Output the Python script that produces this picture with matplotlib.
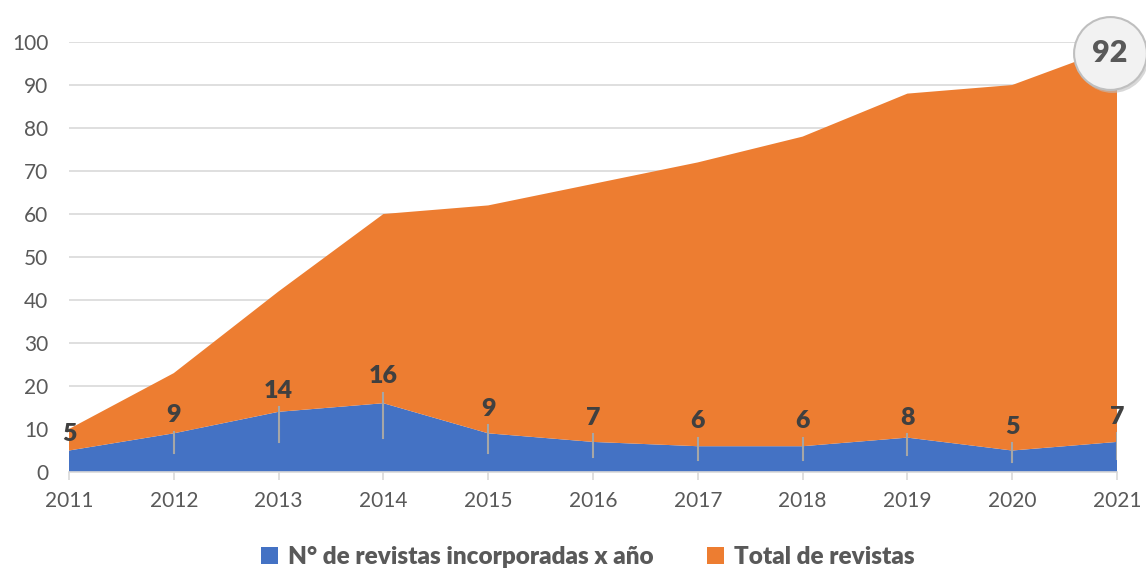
import numpy as np
import matplotlib
matplotlib.use("Agg")
import matplotlib.pyplot as plt
from matplotlib.patches import Patch
from matplotlib.transforms import offset_copy

plt.rcParams['font.family'] = ['Lato', 'DejaVu Sans']

# datos
years = [2011, 2012, 2013, 2014, 2015, 2016, 2017, 2018, 2019, 2020, 2021]
nuevas = [5, 9, 14, 16, 9, 7, 6, 6, 8, 5, 7]
total = [5, 14, 28, 44, 53, 60, 66, 72, 80, 85, 92]
# líneas guía de las etiquetas
guia_lo = [5, 4.4, 7.0, 7.9, 4.4, 3.5, 2.8, 2.8, 4.0, 2.3, 3.0]
guia_hi = [5, 9.3, 15.1, 18.4, 10.9, 8.8, 7.9, 7.9, 8.8, 6.7, 9.0]

azul = '#4472C4'
naranja = '#ED7D31'
gris_txt = '#595959'

fig = plt.figure(figsize=(11.46, 5.70), dpi=100)
ax = fig.add_axes([0.0602, 0.1719, 0.9145, 0.7544])

ax.stackplot(years, nuevas, total, colors=[azul, naranja], zorder=2)

ax.set_xlim(2011, 2021)
ax.set_ylim(0, 100)
ax.set_yticks(range(0, 101, 10))
ax.set_xticks(years)
ax.grid(axis='y', color='#D9D9D9', linewidth=1.2, zorder=0)
ax.set_axisbelow(True)
for s in ['top', 'right', 'left']:
    ax.spines[s].set_visible(False)
ax.spines['bottom'].set_color('#D9D9D9')
ax.spines['bottom'].set_linewidth(1.2)
ax.spines['bottom'].set_zorder(3)
ax.tick_params(axis='y', length=0, labelsize=15, labelcolor=gris_txt, pad=15)
ax.tick_params(axis='x', length=6, color='#D9D9D9', width=1.2, labelsize=15,
               labelcolor=gris_txt, pad=8)

# etiquetas de datos con líneas guía
for i, (x, v) in enumerate(zip(years, nuevas)):
    if guia_hi[i] > guia_lo[i]:
        ax.plot([x, x], [guia_lo[i], guia_hi[i]], color='#A6A6A6', lw=1.5, zorder=4)
    ax.annotate(str(v), xy=(x, guia_hi[i]), xytext=(0, 4), textcoords='offset points',
                ha='center', va='bottom', fontsize=18, fontweight='heavy',
                color='#404040', zorder=5, annotation_clip=False)

# burbuja con el total final
top = nuevas[-1] + total[-1]
tr = offset_copy(ax.transData, fig=fig, x=-5, y=-5, units='points')
tr_sh = offset_copy(ax.transData, fig=fig, x=-3.5, y=-7, units='points')
ax.scatter([years[-1]], [top], s=2750, color='#BFBFBF', alpha=0.6, transform=tr_sh,
           clip_on=False, zorder=6, linewidths=0)
ax.scatter([years[-1]], [top], s=2750, facecolor='#F2F2F2', edgecolor='#BFBFBF',
           linewidths=1.5, transform=tr, clip_on=False, zorder=7)
ax.text(years[-1], top, str(total[-1]), transform=tr, ha='center', va='center',
        fontsize=22, fontweight='heavy', color=gris_txt, zorder=8, clip_on=False)

handles = [Patch(facecolor=azul, label='N° de revistas incorporadas x año'),
           Patch(facecolor=naranja, label='Total de revistas')]
fig.legend(handles=handles, loc='center', bbox_to_anchor=(0.513, 0.022), ncol=2,
           frameon=False, handlelength=0.7, handleheight=0.7, handletextpad=0.4,
           columnspacing=2.2, prop={'size': 17.5, 'weight': 'heavy'}, labelcolor=gris_txt)

fig.savefig('out.png', dpi=100)
